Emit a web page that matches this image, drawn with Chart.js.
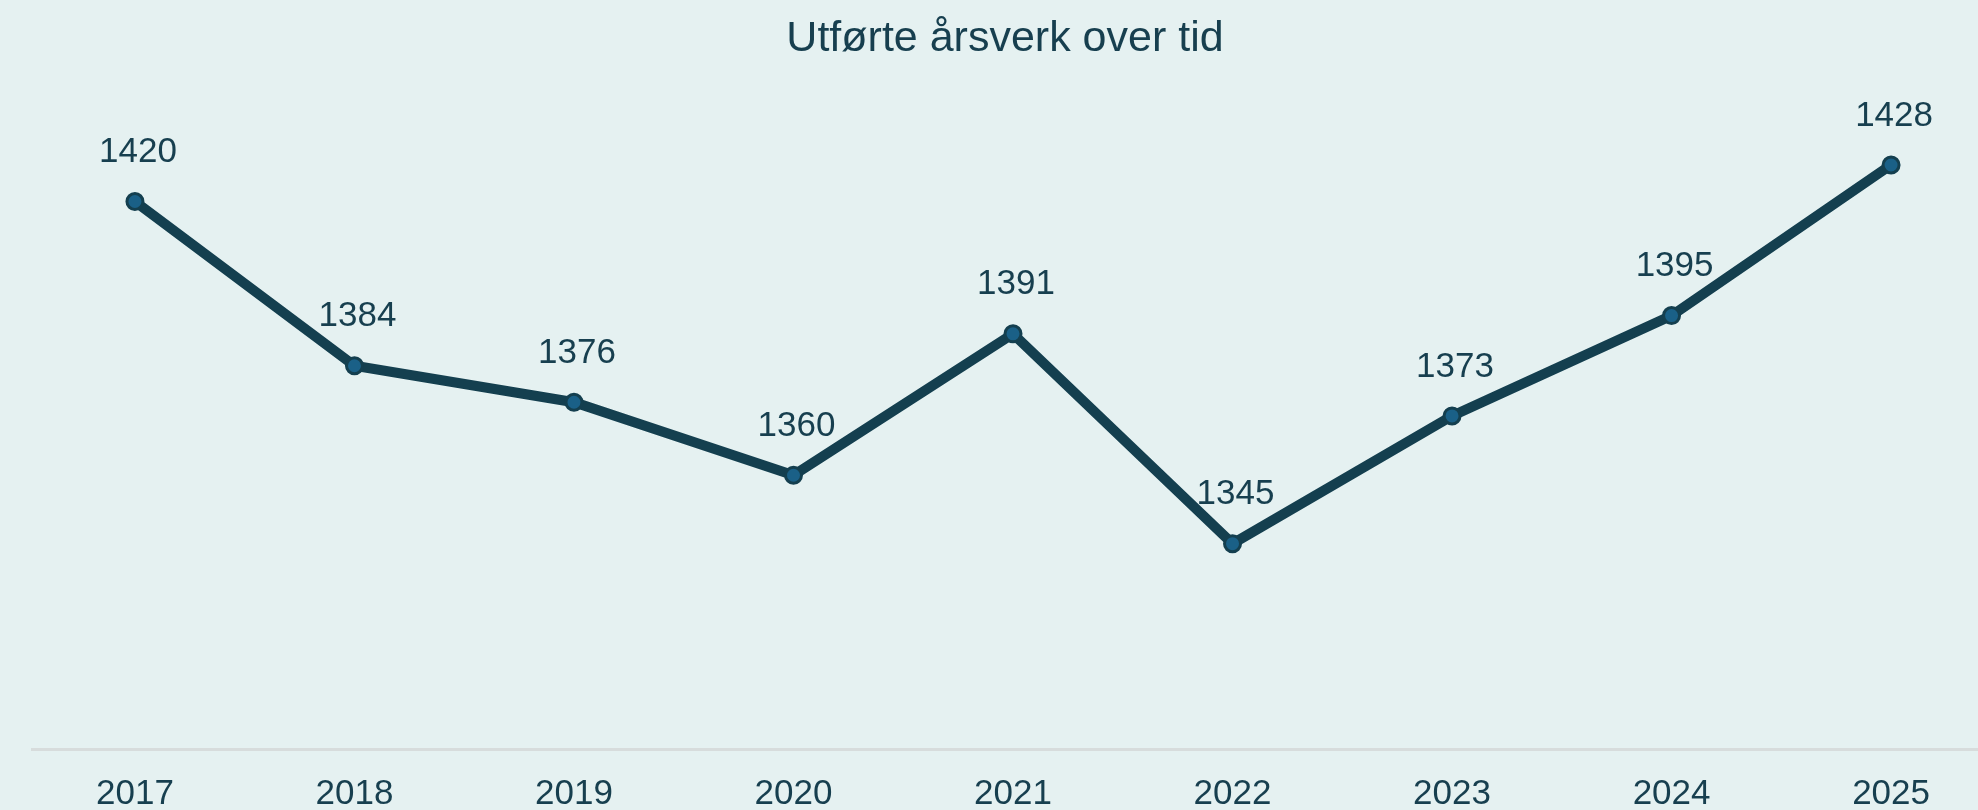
<!DOCTYPE html>
<html>
<head>
<meta charset="utf-8">
<script src="https://cdn.jsdelivr.net/npm/chart.js@4"></script>
<style>
  html, body { margin: 0; padding: 0; background: #e5f1f1; overflow: hidden; }
  canvas { display: block; }
</style>
</head>
<body>
<canvas id="arsverk-chart" width="1978" height="810"></canvas>
<script>
const years = ["2017", "2018", "2019", "2020", "2021", "2022", "2023", "2024", "2025"];
const arsverk = [1420, 1384, 1376, 1360, 1391, 1345, 1373, 1395, 1428];

const textColor = "#173f4f";

// draws the value above each point
const valueLabels = {
    id: "valueLabels",
    afterDatasetsDraw(chart) {
        const ctx = chart.ctx;
        const meta = chart.getDatasetMeta(0);
        ctx.save();
        ctx.font = "35px 'Liberation Sans', Arial, sans-serif";
        ctx.fillStyle = textColor;
        ctx.textAlign = "center";
        ctx.textBaseline = "middle";
        meta.data.forEach((pt, i) => {
            ctx.fillText(String(arsverk[i]), pt.x + 3, pt.y - 49);
        });
        ctx.restore();
    },
};

/**
 * @type import('chart.js').ChartConfiguration
 */
const arsverkChartConfig = {
    type: "line",
    data: {
        datasets: [
            {
                label: "Årsverk",
                data: arsverk.map((v, i) => ({ x: i, y: v })),
                borderColor: "#143f4f",
                borderWidth: 10,
                pointRadius: 8,
                pointBorderWidth: 3,
                pointBackgroundColor: "#1a6087",
                pointBorderColor: "#143f4f",
                tension: 0,
            },
        ],
    },
    options: {
        responsive: false,
        animation: false,
        layout: { autoPadding: false, padding: { left: 32, right: 0, top: 0, bottom: 0 } },
        plugins: {
            legend: { display: false },
            tooltip: { enabled: false },
            title: {
                display: true,
                text: "Utførte årsverk over tid",
                color: textColor,
                font: { family: "'Liberation Sans', Arial, sans-serif", size: 43, weight: "normal" },
                padding: { top: 13, bottom: 0 },
            },
        },
        scales: {
            x: {
                type: "linear",
                min: -0.469,
                max: 8.396,
                afterBuildTicks: (axis) => {
                    axis.ticks = years.map((y, i) => ({ value: i }));
                },
                afterFit: (axis) => {
                    axis.height = 61;
                },
                ticks: {
                    color: textColor,
                    font: { family: "'Liberation Sans', Arial, sans-serif", size: 35 },
                    padding: 24,
                    maxRotation: 0,
                    autoSkip: false,
                    callback: (v) => years[v],
                },
                grid: { display: false, drawTicks: false },
                border: { display: true, color: "#d7dcdc", width: 3 },
            },
            y: {
                display: false,
                min: 1300,
                max: 1450,
            },
        },
    },
    plugins: [valueLabels],
};

new Chart(document.getElementById("arsverk-chart"), arsverkChartConfig);
</script>
</body>
</html>
